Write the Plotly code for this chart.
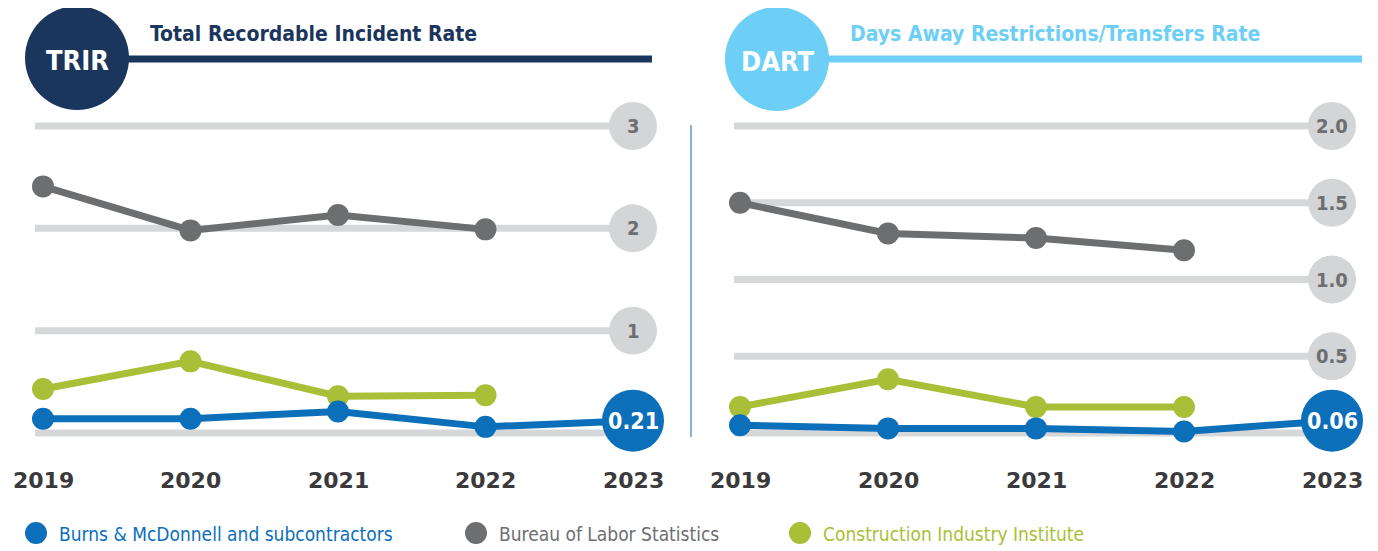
import plotly.graph_objects as go

years = [2019, 2020, 2021, 2022, 2023]
years_hist = [2019, 2020, 2021, 2022]

# TRIR panel
trir_bmcd = [0.14, 0.14, 0.21, 0.06, 0.12]
trir_bls = [2.41, 1.98, 2.13, 1.99]
trir_cii = [0.43, 0.70, 0.36, 0.37]
trir_ticks = [1, 2, 3]
trir_ticklabels = ["1", "2", "3"]
trir_badge = "0.21"

# DART panel
dart_bmcd = [0.05, 0.03, 0.03, 0.01, 0.08]
dart_bls = [1.50, 1.30, 1.27, 1.19]
dart_cii = [0.17, 0.35, 0.17, 0.17]
dart_ticks = [0.5, 1.0, 1.5, 2.0]
dart_ticklabels = ["0.5", "1.0", "1.5", "2.0"]
dart_badge = "0.06"

series_names = ["Burns & McDonnell and subcontractors", "Bureau of Labor Statistics",
                "Construction Industry Institute"]

BLUE = "#0b6fba"
GRAY = "#6d6e70"
GREEN = "#a8bf37"
GRID = "#d6d7d9"
BADGE = "#d4d5d7"
NAVY = "#1b365d"
SKY = "#6dcff6"
COND = "DejaVu Sans Condensed, Liberation Sans Narrow, sans-serif"

# page offset (body margin) compensation
OX, OY = 8, 8
W, H = 1378 - OX, 551 - OY


def px(x):
    return (x - OX) / W


def py(y):
    return 1 - (y - OY) / H


def axis_range(a, b, v0, p0, v1, p1):
    k = (v1 - v0) / (p1 - p0)
    return [v0 + (a - p0) * k, v0 + (b - p0) * k]


fig = go.Figure()

panels = [
    dict(xa="x", ya="y", bmcd=trir_bmcd, bls=trir_bls, cii=trir_cii,
         ticks=trir_ticks, labels=trir_ticklabels, badge=trir_badge, gstart=2018.946),
    dict(xa="x2", ya="y2", bmcd=dart_bmcd, bls=dart_bls, cii=dart_cii,
         ticks=dart_ticks, labels=dart_ticklabels, badge=dart_badge, gstart=2018.960),
]

shapes = []
annotations = []
noline = dict(width=0)

for p in panels:
    for t in [0] + p["ticks"]:
        shapes.append(dict(type="line", xref=p["xa"], yref=p["ya"], x0=p["gstart"], x1=2023,
                           y0=t, y1=t, line=dict(color=GRID, width=7), layer="below"))
    fig.add_trace(go.Scatter(x=[2023] * len(p["ticks"]), y=p["ticks"], mode="markers",
                             marker=dict(size=48, color=BADGE, opacity=1, line=noline),
                             xaxis=p["xa"], yaxis=p["ya"], showlegend=False, hoverinfo="skip"))
    for t, lab in zip(p["ticks"], p["labels"]):
        annotations.append(dict(x=2023, y=t, xref=p["xa"], yref=p["ya"], text=f"<b>{lab}</b>",
                                showarrow=False, xanchor="center", yanchor="middle",
                                font=dict(family=COND, size=20, color=GRAY)))
    fig.add_trace(go.Scatter(x=years_hist, y=p["bls"], mode="lines+markers",
                             line=dict(color=GRAY, width=7),
                             marker=dict(size=22, color=GRAY, opacity=1, line=noline),
                             xaxis=p["xa"], yaxis=p["ya"], showlegend=False))
    fig.add_trace(go.Scatter(x=years_hist, y=p["cii"], mode="lines+markers",
                             line=dict(color=GREEN, width=7),
                             marker=dict(size=22, color=GREEN, opacity=1, line=noline),
                             xaxis=p["xa"], yaxis=p["ya"], showlegend=False))
    fig.add_trace(go.Scatter(x=years, y=p["bmcd"], mode="lines+markers",
                             line=dict(color=BLUE, width=7),
                             marker=dict(size=[22, 22, 22, 22, 62], color=BLUE, opacity=1,
                                         line=noline),
                             xaxis=p["xa"], yaxis=p["ya"], showlegend=False))
    annotations.append(dict(x=2023, y=p["bmcd"][-1], xref=p["xa"], yref=p["ya"],
                            text=f"<b>{p['badge']}</b>", showarrow=False,
                            xanchor="center", yanchor="middle",
                            font=dict(family=COND, size=23, color="white")))
    for yr in years:
        annotations.append(dict(x=yr, y=py(480), xref=p["xa"], yref="paper", text=f"<b>{yr}</b>",
                                showarrow=False, xanchor="center", yanchor="middle",
                                font=dict(family="DejaVu Sans", size=22, color="#3a3a3c")))

# divider
shapes.append(dict(type="line", xref="paper", yref="paper", x0=px(691), x1=px(691),
                   y0=py(125), y1=py(437), line=dict(color="#5b9bd1", width=1.5)))

# headers
headers = [
    dict(cx=77, cy=58, color=NAVY, abbr="TRIR", title="Total Recordable Incident Rate",
         lx1=652, tx=148),
    dict(cx=777, cy=59, color=SKY, abbr="DART", title="Days Away Restrictions/Transfers Rate",
         lx1=1362, tx=848),
]
for h in headers:
    shapes.append(dict(type="line", xref="paper", yref="paper", x0=px(h["cx"] + 40),
                       x1=px(h["lx1"]), y0=py(59), y1=py(59),
                       line=dict(color=h["color"], width=7)))
    shapes.append(dict(type="circle", xref="paper", yref="paper", x0=px(h["cx"] - 52),
                       x1=px(h["cx"] + 52), y0=py(h["cy"] + 52), y1=py(h["cy"] - 52),
                       fillcolor=h["color"], line=dict(width=0)))
    annotations.append(dict(x=px(h["cx"]), y=py(h["cy"] + 3), xref="paper", yref="paper",
                            text=f"<b>{h['abbr']}</b>", showarrow=False,
                            xanchor="center", yanchor="middle",
                            font=dict(family=COND, size=27, color="white")))
    annotations.append(dict(x=px(h["tx"]), y=py(34), xref="paper", yref="paper",
                            xanchor="left", yanchor="middle",
                            text=f"<b>{h['title']}</b>", showarrow=False,
                            font=dict(family=COND, size=21, color=h["color"])))

# legend
legend_items = [(36, 57, BLUE), (476, 497, GRAY), (800, 821, GREEN)]
for (mx, tx, col), name in zip(legend_items, series_names):
    shapes.append(dict(type="circle", xref="paper", yref="paper", x0=px(mx - 11), x1=px(mx + 11),
                       y0=py(544), y1=py(522), fillcolor=col, line=dict(width=0)))
    annotations.append(dict(x=px(tx), y=py(534), xref="paper", yref="paper",
                            xanchor="left", yanchor="middle",
                            text=name, showarrow=False, font=dict(family=COND, size=19, color=col)))

ax = dict(visible=False, fixedrange=True)
fig.update_layout(
    width=W, height=H, margin=dict(l=0, r=0, t=0, b=0),
    paper_bgcolor="white", plot_bgcolor="white", showlegend=False,
    xaxis=dict(ax, domain=[0, px(689)], range=axis_range(OX, 689, 2019, 43, 2023, 633)),
    yaxis=dict(ax, domain=[0, 1], range=axis_range(551, OY, 0, 433, 3, 126)),
    xaxis2=dict(ax, domain=[px(689), 1], range=axis_range(689, 1378, 2019, 740, 2023, 1332)),
    yaxis2=dict(ax, domain=[0, 1], range=axis_range(551, OY, 0, 433, 2, 126), anchor="x2"),
    shapes=shapes, annotations=annotations,
)
fig.write_html("out.html")
